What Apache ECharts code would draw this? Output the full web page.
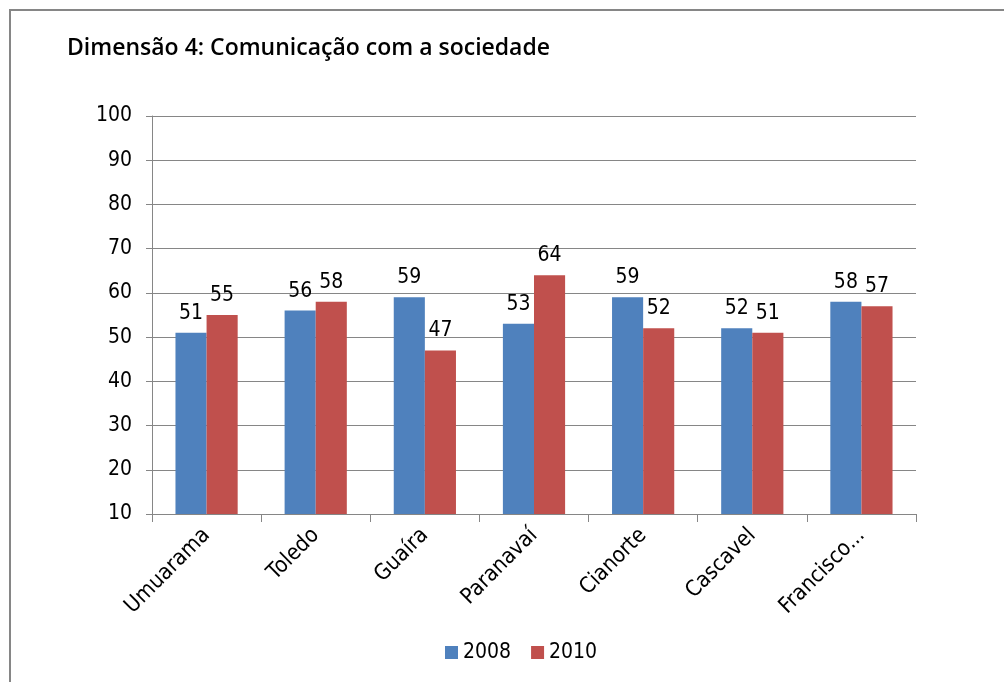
<!DOCTYPE html>
<html>
<head>
<meta charset="utf-8">
<script src="https://cdn.jsdelivr.net/npm/echarts@6/dist/echarts.min.js"></script>
<style>
  html, body { margin: 0; padding: 0; background: #fff; }
  #frame { position: absolute; left: 9px; top: 9px; width: 1010px; height: 690px; border: 2px solid #868686; box-sizing: border-box; }
  #chart { position: absolute; left: 0; top: 0; width: 1004px; height: 682px; }
</style>
</head>
<body>
<div id="frame"></div>
<div id="chart"></div>
<script>
// dados do gráfico
var cidades = ['Umuarama', 'Toledo', 'Guaíra', 'Paranavaí', 'Cianorte', 'Cascavel', 'Francisco...'];
var v2008 = [51, 56, 59, 53, 59, 52, 58];
var v2010 = [55, 58, 47, 64, 52, 51, 57];
var anos = ['2008', '2010'];

var fonte = '"Liberation Sans Narrow", "DejaVu Sans Condensed", "Liberation Sans", sans-serif';
var cinza = '#868686';

var myChart = echarts.init(document.getElementById('chart'));

var rotulo = {
    show: true,
    position: 'top',
    distance: 9,
    color: '#000',
    fontFamily: fonte,
    fontSize: 21
};

var option = {
    animation: false,
    title: {
        text: 'Dimensão 4: Comunicação com a sociedade',
        left: 62,
        top: 32,
        textStyle: {
            fontFamily: '"Open Sans", sans-serif',
            fontWeight: 600,
            fontSize: 23,
            color: '#000'
        }
    },
    legend: {
        data: anos,
        bottom: 14,
        left: 440,
        itemWidth: 13,
        itemHeight: 13,
        itemGap: 20,
        icon: 'rect',
        textStyle: { fontFamily: fonte, fontSize: 21, color: '#000' }
    },
    grid: {
        left: 152,
        right: 88,
        top: 116,
        bottom: 168
    },
    xAxis: {
        type: 'category',
        data: cidades,
        axisLine: { lineStyle: { color: cinza, width: 1 } },
        axisTick: { show: true, length: 8, alignWithLabel: false, lineStyle: { color: cinza } },
        axisLabel: {
            rotate: 45,
            margin: 18,
            color: '#000',
            fontFamily: fonte,
            fontSize: 22
        }
    },
    yAxis: {
        type: 'value',
        min: 10,
        max: 100,
        interval: 10,
        axisLine: { show: true, lineStyle: { color: cinza, width: 1 } },
        axisTick: { show: true, length: 6, lineStyle: { color: cinza } },
        splitLine: { lineStyle: { color: cinza, width: 1 } },
        axisLabel: {
            margin: 20,
            color: '#000',
            fontFamily: fonte,
            fontSize: 21
        }
    },
    series: [
        {
            name: anos[0],
            type: 'bar',
            data: v2008,
            barGap: '0%',
            barCategoryGap: '43%',
            itemStyle: { color: '#4F81BD' },
            label: rotulo
        },
        {
            name: anos[1],
            type: 'bar',
            data: v2010,
            itemStyle: { color: '#C0504D' },
            label: rotulo
        }
    ]
};

myChart.setOption(option);
</script>
</body>
</html>
